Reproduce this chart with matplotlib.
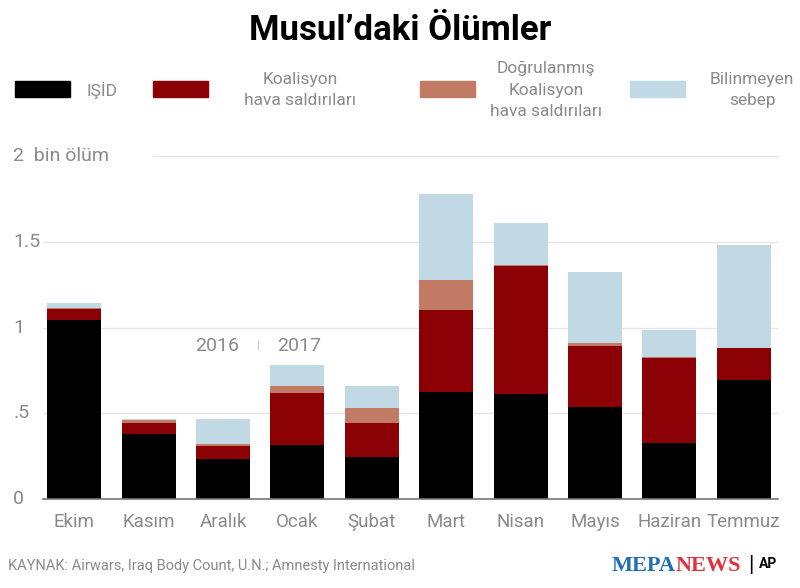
import matplotlib
matplotlib.use("Agg")
import matplotlib.pyplot as plt
import numpy as np
from matplotlib.patches import Rectangle

months = ["Ekim", "Kasım", "Aralık", "Ocak", "Şubat", "Mart", "Nisan", "Mayıs", "Haziran", "Temmuz"]
# thousand deaths per month
isid = [1.043, 0.379, 0.233, 0.315, 0.248, 0.625, 0.615, 0.538, 0.326, 0.693]
koalisyon = [0.064, 0.067, 0.078, 0.306, 0.197, 0.476, 0.745, 0.355, 0.497, 0.187]
dogrulanmis = [0.006, 0.016, 0.011, 0.039, 0.087, 0.177, 0.007, 0.018, 0.008, 0.0]
bilinmeyen = [0.029, 0.008, 0.148, 0.119, 0.128, 0.497, 0.243, 0.412, 0.157, 0.600]

series = [isid, koalisyon, dogrulanmis, bilinmeyen]
labels = ["IŞİD", "Koalisyon\nhava saldırıları", "Doğrulanmış\nKoalisyon\nhava saldırıları", "Bilinmeyen\nsebep"]
colors = ["#000000", "#8b0004", "#c17a64", "#c1d9e5"]
yticks = [0, 0.5, 1, 1.5, 2]
ytick_labels = ["0", ".5", "1", "1.5", "2  bin ölüm"]

FONT = ["Roboto", "DejaVu Sans"]
GRAY = "#8a8a8a"
plt.rcParams["font.family"] = FONT

fig = plt.figure(figsize=(8, 5.88), dpi=100)
ax = fig.add_axes([0.054, 0.151, 0.9185, 0.584])

x = np.arange(len(months))
bottom = np.zeros(len(months))
for vals, col in zip(series, colors):
    ax.bar(x, vals, width=0.725, bottom=bottom, color=col, zorder=3)
    bottom += np.array(vals)

ax.set_xlim(-0.417, 9.46)
ax.set_ylim(0, 2)
for s in ["top", "right", "left"]:
    ax.spines[s].set_visible(False)
ax.spines["bottom"].set_color("#777777")
ax.spines["bottom"].set_linewidth(1.2)
ax.spines["bottom"].set_zorder(4)

# gridlines (top one leaves room for the unit label)
for yv in yticks[1:-1]:
    ax.axhline(yv, color="#e6e6e6", lw=1, zorder=1)
ax.plot([1.06, 9.46], [2, 2], color="#e6e6e6", lw=1, zorder=1, clip_on=False)

ax.set_yticks([])
for yv, lab in zip(yticks, ytick_labels):
    ax.text(-0.82, yv, lab, ha="left", va="center", fontsize=14, color=GRAY,
            transform=ax.transData, clip_on=False)

ax.set_xticks(x)
ax.set_xticklabels(months, fontsize=13.5, color=GRAY)
ax.tick_params(axis="x", length=0, pad=10)

# year divider
ax.text(1.92, 0.893, "2016", ha="center", va="center", fontsize=14, color=GRAY)
ax.text(2.47, 0.893, "|", ha="center", va="center", fontsize=8, color="#bbbbbb")
ax.text(3.02, 0.893, "2017", ha="center", va="center", fontsize=14, color=GRAY)

# title
fig.text(0.5, 0.948, "Musul’daki Ölümler", ha="center", va="center",
         fontsize=25, fontweight="bold", color="black")

# legend drawn by hand
patch_x = [15, 153, 420, 630]
text_x = [86, 300, 546, 752]
text_ha = ["left", "center", "center", "center"]
for px, tx, ha, lab, col in zip(patch_x, text_x, text_ha, labels, colors):
    fig.patches.append(Rectangle((px / 800, 1 - 97 / 588), 55 / 800, 16 / 588,
                                 transform=fig.transFigure, color=col))
    fig.text(tx / 800, 1 - 90 / 588, lab, ha=ha, va="center", fontsize=12.5,
             color=GRAY, linespacing=1.55)

# source and logo
fig.text(8 / 800, 1 - 566 / 588, "KAYNAK: Airwars, Iraq Body Count, U.N.; Amnesty International",
         ha="left", va="center", fontsize=10.5, color=GRAY)

fig.canvas.draw()
rend = fig.canvas.get_renderer()
serif = ["Liberation Serif", "DejaVu Serif"]
t1 = fig.text(612 / 800, 1 - 566 / 588, "MEPA", ha="left", va="center", fontsize=16,
              fontweight="bold", color="#1c6fb8", family=serif)
bb = t1.get_window_extent(renderer=rend)
t2 = fig.text(bb.x1 / 800, 1 - 566 / 588, "NEWS", ha="left", va="center", fontsize=16,
              fontweight="bold", color="#e2303d", family=serif)
bb2 = t2.get_window_extent(renderer=rend)
fig.text(bb2.x1 / 800 + 0.008, 1 - 566 / 588, "|", ha="left", va="center", fontsize=16, color="black")
fig.text(bb2.x1 / 800 + 0.022, 1 - 564 / 588, "AP", ha="left", va="center", fontsize=10,
         fontweight="bold", color="black")

fig.savefig("out.png", dpi=100)
